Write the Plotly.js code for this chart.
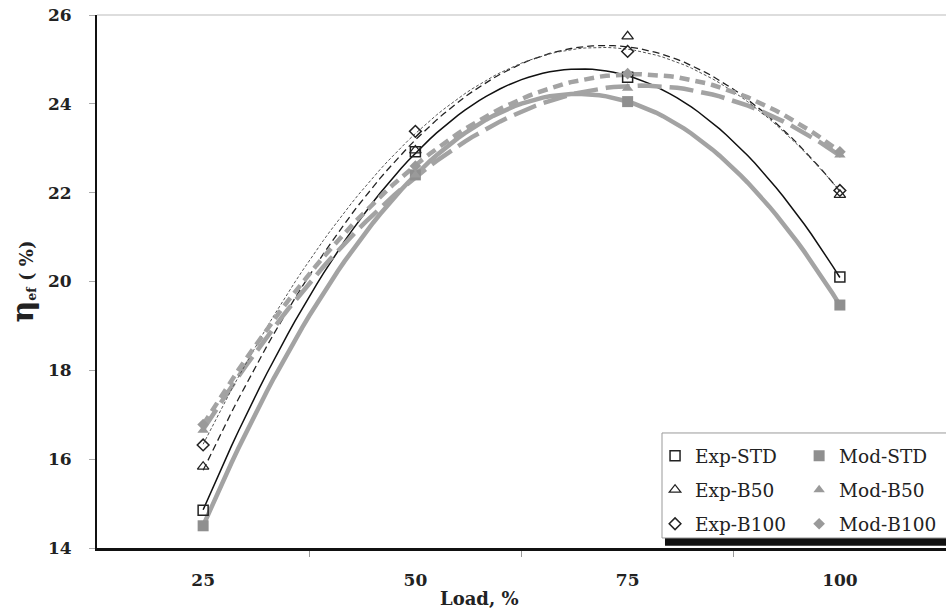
<!DOCTYPE html>
<html>
<head>
<meta charset="utf-8">
<script src="https://cdn.plot.ly/plotly-3.0.1.min.js"></script>
<style>html,body{margin:0;padding:0;background:#fff;overflow:hidden}#chart{width:946px;height:613px}</style>
</head>
<body>
<div id="chart"></div>
<script>
// Data
const load = [25, 50, 75, 100];
const tickLabels = ['25', '50', '75', '100'];
const expSTD  = [14.85, 22.92, 24.6, 20.1];
const modSTD  = [14.5, 22.4, 24.05, 19.47];
const expB50  = [15.83, 22.95, 25.52, 21.95];
const modB50  = [16.65, 22.4, 24.35, 22.85];
const expB100 = [16.32, 23.38, 25.18, 22.05];
const modB100 = [16.78, 22.6, 24.68, 22.92];

// 2nd-order polynomial trendline (least squares) of a series
function quadFit(xs, ys) {
  const xm = xs.reduce((a, b) => a + b, 0) / xs.length;
  const u = xs.map(x => (x - xm) / 25);
  let S = [0, 0, 0, 0, 0], T = [0, 0, 0];
  for (let i = 0; i < u.length; i++) {
    for (let k = 0; k < 5; k++) S[k] += Math.pow(u[i], k);
    for (let k = 0; k < 3; k++) T[k] += ys[i] * Math.pow(u[i], k);
  }
  const A = [[S[0], S[1], S[2], T[0]], [S[1], S[2], S[3], T[1]], [S[2], S[3], S[4], T[2]]];
  for (let c = 0; c < 3; c++) {
    for (let r = c + 1; r < 3; r++) {
      const f = A[r][c] / A[c][c];
      for (let k = c; k < 4; k++) A[r][k] -= f * A[c][k];
    }
  }
  const coef = [0, 0, 0];
  for (let r = 2; r >= 0; r--) {
    let s = A[r][3];
    for (let k = r + 1; k < 3; k++) s -= A[r][k] * coef[k];
    coef[r] = s / A[r][r];
  }
  const xMin = Math.min(...xs), xMax = Math.max(...xs);
  const fx = [], fy = [];
  for (let i = 0; i <= 90; i++) {
    const x = xMin + (xMax - xMin) * i / 90;
    const v = (x - xm) / 25;
    fx.push(x); fy.push(coef[0] + coef[1] * v + coef[2] * v * v);
  }
  return {x: fx, y: fy};
}

const gray = '#a3a3a3';
const series = [
  {name: 'Exp-STD',  y: expSTD,  legend: 'legend',  line: {color: '#111', width: 1.5, dash: 'solid'},
   marker: {symbol: 'square-open', size: 10, color: '#222', line: {width: 1.5}}},
  {name: 'Mod-STD',  y: modSTD,  legend: 'legend2', line: {color: gray, width: 4.5, dash: 'solid'},
   marker: {symbol: 'square', size: 11, color: '#8f8f8f'}},
  {name: 'Exp-B50',  y: expB50,  legend: 'legend',  line: {color: '#222', width: 1.3, dash: '7px,4px'},
   marker: {symbol: 'triangle-up-open', size: 10, color: '#222', line: {width: 1.3}}},
  {name: 'Mod-B50',  y: modB50,  legend: 'legend2', line: {color: gray, width: 4.5, dash: '24px,8px'},
   marker: {symbol: 'triangle-up', size: 10, color: '#9a9a9a'}},
  {name: 'Exp-B100', y: expB100, legend: 'legend',  line: {color: '#555', width: 1, dash: '3px,2px'},
   marker: {symbol: 'diamond-open', size: 9, color: '#222', line: {width: 1.5}}},
  {name: 'Mod-B100', y: modB100, legend: 'legend2', line: {color: gray, width: 4.5, dash: '10px,6px'},
   marker: {symbol: 'diamond', size: 9, color: '#9a9a9a'}}
];

const traces = [];
// trendlines first (drawn below markers)
series.forEach(s => {
  const f = quadFit(load, s.y);
  traces.push({x: f.x, y: f.y, mode: 'lines', type: 'scatter', line: s.line,
    showlegend: false, hoverinfo: 'skip'});
});
series.forEach(s => {
  traces.push({x: load, y: s.y, mode: 'markers', type: 'scatter', name: s.name,
    legend: s.legend, legendgroup: s.name, marker: s.marker});
});

const serif = 'DejaVu Serif, serif';
const legendBase = {
  orientation: 'v', xanchor: 'left', yanchor: 'top', y: 0.208,
  bgcolor: 'rgba(0,0,0,0)', borderwidth: 0, tracegroupgap: 7, itemwidth: 30,
  font: {family: serif, size: 18.5, color: '#222'}
};
const layout = {
  width: 946, height: 613,
  margin: {l: 97, r: 0, t: 15, b: 65},
  paper_bgcolor: '#fff', plot_bgcolor: '#fff',
  showlegend: true,
  xaxis: {
    range: [12.5, 112.5], tickvals: load, ticktext: tickLabels,
    showgrid: false, zeroline: false, ticks: '',
    showline: true, linecolor: '#111', linewidth: 3,
    tickfont: {family: serif, size: 17, color: '#222', weight: 'bold'},
    ticklabelstandoff: 15,
    minor: {tickvals: [37.5, 62.5, 87.5], ticks: 'outside', ticklen: 6, tickcolor: '#999', tickwidth: 1, showgrid: false}
  },
  yaxis: {
    range: [14, 26], tickvals: [14, 16, 18, 20, 22, 24, 26],
    showgrid: false, zeroline: false,
    ticks: 'outside', ticklen: 6, tickcolor: '#aaa', tickwidth: 1,
    showline: true, linecolor: '#111', linewidth: 2,
    tickfont: {family: serif, size: 17, color: '#222', weight: 'bold'},
    ticklabelstandoff: 14,
    title: {text: '<span style="font-size:30px">η</span><sub>ef</sub> ( %)',
      font: {family: serif, size: 18, color: '#222', weight: 'bold'}, standoff: 10}
  },
  legend: Object.assign({}, legendBase, {x: 0.6573}),
  legend2: Object.assign({}, legendBase, {x: 0.827}),
  shapes: [
    {type: 'line', xref: 'paper', yref: 'paper', x0: 0, x1: 1, y0: 1, y1: 1,
     line: {color: '#bbb', width: 1}},
    {type: 'rect', xref: 'paper', yref: 'paper', x0: 0.669, x1: 1, y0: 0.004, y1: 0.02,
     fillcolor: '#111', line: {width: 0}, layer: 'above'},
    {type: 'rect', xref: 'paper', yref: 'paper', x0: 0.6655, x1: 1.002, y0: 0.0188, y1: 0.2158,
     fillcolor: '#fff', line: {color: '#999', width: 1}, layer: 'above'}
  ],
  annotations: [
    {text: 'Load, %', xref: 'paper', yref: 'paper', x: 0.45, y: 0, yshift: -50,
     xanchor: 'center', yanchor: 'middle', showarrow: false,
     font: {family: serif, size: 18, color: '#222', weight: 'bold'}}
  ]
};

Plotly.newPlot('chart', traces, layout, {displayModeBar: false, staticPlot: true});
</script>
</body>
</html>
